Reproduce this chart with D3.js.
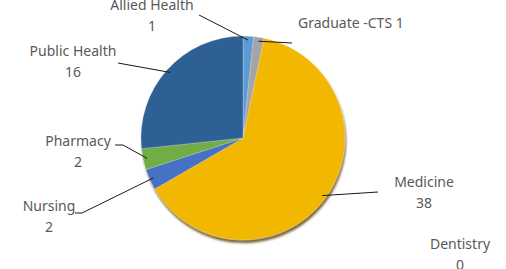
<!DOCTYPE html>
<html>
  <head>
    <title> Program pie </title>
    <script src="https://cdn.jsdelivr.net/npm/d3@7/dist/d3.min.js"></script>
    <style>
      body { margin: 0; background: white; }
      .label { font-family: "Noto Sans", sans-serif; font-size: 14px; fill: #595959; }
      .leader { fill: none; stroke: #1a1a1a; stroke-width: 1; }
    </style>
  </head>
  <body>
    <script>
      var programs = ["Allied Health", "Graduate -CTS", "Medicine", "Dentistry", "Nursing", "Pharmacy", "Public Health"];
      var counts = [1, 1, 38, 0, 2, 2, 16];
      var colours = ["#5b9bd5", "#a5a5a5", "#f2b705", "#264478", "#4472c4", "#70ad47", "#2e6096"];

      // where each label sits and where its leader line bends
      var layout = {
        "Allied Health": {x: 152, y: 10, anchor: "middle", two: true, line: [[199, 15]]},
        "Graduate -CTS": {x: 298, y: 28, anchor: "start", two: false, line: [[292, 43]]},
        "Medicine": {x: 424, y: 187, anchor: "middle", two: true, line: [[378, 192]]},
        "Dentistry": {x: 460, y: 249, anchor: "middle", two: true, line: null},
        "Nursing": {x: 49, y: 211, anchor: "middle", two: true, line: [[75, 213], [82, 213]]},
        "Pharmacy": {x: 78, y: 146, anchor: "middle", two: true, line: [[115, 145], [123, 145]]},
        "Public Health": {x: 73, y: 56, anchor: "middle", two: true, line: [[118, 63]]}
      };

      var width = 506, height = 269, cx = 243, cy = 138, r = 102;

      var svg = d3.select("body").append("svg").attr("width", width).attr("height", height);

      var defs = svg.append("defs");
      var f = defs.append("filter").attr("id", "shade").attr("x", "-10%").attr("y", "-10%").attr("width", "120%").attr("height", "125%");
      f.append("feDropShadow").attr("dx", 1).attr("dy", 3).attr("stdDeviation", 1).attr("flood-color", "#5a4300").attr("flood-opacity", 0.8);

      var data = programs.map(function(p, i){ return {name: p, value: counts[i], colour: colours[i]}; });

      var pie = d3.pie().value(function(d){ return d.value; }).sort(null);
      var arc = d3.arc().innerRadius(0).outerRadius(r);
      var arcs = pie(data);

      var g = svg.append("g").attr("transform", "translate(" + cx + "," + cy + ")");
      g.append("g").attr("filter", "url(#shade)")
        .selectAll("path").data(arcs.filter(function(d){ return d.value > 0; })).enter().append("path")
        .attr("d", arc)
        .attr("fill", function(d){ return d.data.colour; })
        .attr("stroke", "rgba(255,255,255,0.35)")
        .attr("stroke-width", 0.7);

      // leader lines
      arcs.forEach(function(a){
        var L = layout[a.data.name];
        if (!L.line) return;
        var mid = (a.startAngle + a.endAngle) / 2;
        var end = [cx + (r - 4) * Math.sin(mid), cy - (r - 4) * Math.cos(mid)];
        var pts = L.line.concat([end]);
        svg.append("path").attr("class", "leader").attr("d", d3.line()(pts));
      });

      // labels
      arcs.forEach(function(a){
        var L = layout[a.data.name];
        var t = svg.append("text").attr("class", "label").attr("text-anchor", L.anchor).attr("x", L.x).attr("y", L.y);
        if (L.two) {
          t.append("tspan").attr("x", L.x).text(a.data.name);
          t.append("tspan").attr("x", L.x).attr("dy", 21).text(a.data.value);
        } else {
          t.text(a.data.name + " " + a.data.value);
        }
      });
    </script>
  </body>
</html>
